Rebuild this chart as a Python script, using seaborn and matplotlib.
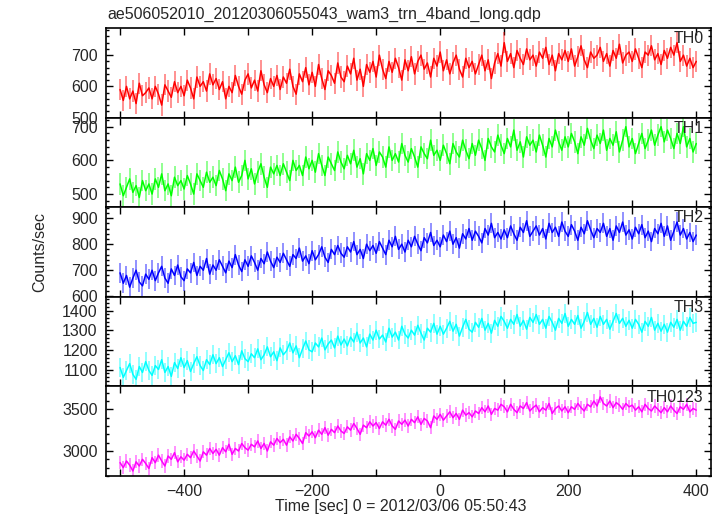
import numpy as np
import pandas as pd
import seaborn as sns
import matplotlib.pyplot as plt
from matplotlib.ticker import MultipleLocator

# time bins [sec], 0 = 2012/03/06 05:50:43
time = np.arange(-500, 401, 5)

th0 = [590, 555, 600, 560, 585, 545, 610, 570, 580, 595,
       560, 600, 575, 540, 605, 585, 565, 615, 580, 600,
       570, 620, 595, 560, 630, 600, 615, 585, 640, 605,
       625, 590, 615, 560, 600, 580, 635, 600, 575, 620,
       640, 595, 620, 585, 650, 605, 580, 625, 600, 635,
       590, 630, 610, 655, 600, 575, 640, 615, 660, 605,
       645, 600, 670, 625, 590, 650, 635, 610, 675, 630,
       615, 665, 640, 690, 620, 655, 600, 670, 645, 680,
       630, 700, 655, 625, 680, 645, 690, 660, 620, 685,
       650, 695, 640, 680, 700, 655, 675, 630, 690, 665,
       710, 650, 685, 640, 675, 700, 655, 630, 690, 660,
       680, 640, 670, 700, 650, 685, 625, 675, 705, 665,
       740, 680, 705, 660, 715, 690, 670, 720, 685, 700,
       665, 710, 690, 725, 670, 700, 650, 705, 685, 715,
       680, 720, 665, 695, 730, 685, 660, 710, 690, 700,
       725, 680, 705, 665, 715, 690, 735, 675, 700, 710,
       680, 720, 690, 660, 710, 700, 730, 685, 705, 670,
       715, 690, 725, 700, 740, 680, 700, 665, 690, 660,
       680]

th1 = [530, 495, 520, 545, 505, 525, 490, 540, 510, 530,
       500, 545, 520, 560, 510, 530, 495, 550, 525, 540,
       515, 555, 530, 500, 560, 540, 520, 565, 535, 550,
       525, 570, 545, 510, 560, 540, 580, 535, 555, 600,
       545, 575, 530, 565, 590, 550, 520, 580, 560, 585,
       555, 590, 565, 540, 600, 570, 585, 555, 610, 575,
       600, 565, 620, 585, 555, 610, 590, 570, 625, 595,
       575, 615, 590, 630, 580, 605, 560, 620, 600, 635,
       585, 625, 610, 580, 640, 600, 620, 595, 650, 615,
       595, 635, 610, 580, 640, 620, 605, 660, 615, 630,
       600, 645, 620, 590, 650, 625, 610, 660, 630, 605,
       650, 615, 660, 635, 600, 665, 640, 625, 675, 645,
       620, 665, 640, 690, 630, 655, 610, 670, 645, 660,
       625, 675, 645, 610, 665, 640, 690, 655, 630, 670,
       640, 680, 655, 620, 670, 645, 695, 660, 635, 675,
       650, 690, 630, 665, 645, 685, 625, 660, 700, 640,
       665, 620, 650, 680, 635, 660, 690, 645, 675, 700,
       655, 690, 665, 635, 680, 650, 700, 640, 665, 625,
       650]

th2 = [690, 650, 680, 635, 670, 700, 655, 640, 685, 665,
       700, 660, 690, 715, 670, 650, 705, 680, 720, 675,
       660, 705, 690, 730, 680, 715, 700, 745, 685, 720,
       700, 740, 715, 690, 735, 710, 760, 720, 695, 740,
       715, 755, 730, 700, 745, 725, 770, 735, 710, 750,
       730, 765, 740, 715, 760, 745, 785, 735, 755, 725,
       775, 740, 760, 790, 750, 730, 780, 760, 795, 765,
       750, 790, 770, 810, 760, 780, 745, 800, 775, 795,
       765, 810, 785, 760, 815, 790, 830, 780, 800, 770,
       815, 790, 830, 800, 775, 825, 805, 845, 795, 815,
       790, 835, 810, 850, 800, 825, 785, 840, 820, 860,
       815, 850, 830, 805, 860, 835, 880, 825, 845, 820,
       855, 825, 870, 840, 815, 865, 845, 890, 830, 850,
       870, 835, 860, 820, 880, 845, 865, 830, 885, 850,
       830, 875, 850, 815, 865, 840, 890, 855, 825, 860,
       845, 880, 830, 860, 815, 870, 845, 885, 835, 855,
       820, 865, 840, 875, 825, 850, 810, 860, 840, 880,
       830, 870, 815, 850, 885, 835, 860, 820, 845, 810,
       835]

th3 = [1110, 1060, 1095, 1130, 1075, 1050, 1115, 1085, 1140, 1095,
       1070, 1120, 1100, 1150, 1085, 1115, 1065, 1135, 1105, 1160,
       1110, 1145, 1090, 1130, 1165, 1120, 1095, 1150, 1125, 1175,
       1130, 1160, 1115, 1150, 1185, 1140, 1170, 1125, 1195, 1155,
       1140, 1180, 1160, 1205, 1150, 1175, 1215, 1165, 1190, 1145,
       1210, 1175, 1195, 1235, 1185, 1220, 1160, 1205, 1245, 1200,
       1190, 1235, 1215, 1260, 1200, 1230, 1250, 1210, 1270, 1225,
       1255, 1220, 1265, 1240, 1290, 1235, 1260, 1215, 1280, 1250,
       1300, 1255, 1275, 1240, 1310, 1265, 1290, 1250, 1320, 1280,
       1260, 1300, 1275, 1325, 1285, 1250, 1310, 1290, 1335, 1280,
       1320, 1280, 1310, 1345, 1295, 1330, 1270, 1315, 1355, 1305,
       1290, 1340, 1315, 1360, 1300, 1335, 1285, 1350, 1320, 1370,
       1345, 1310, 1355, 1330, 1380, 1320, 1350, 1305, 1365, 1340,
       1380, 1330, 1355, 1310, 1370, 1340, 1300, 1360, 1335, 1385,
       1320, 1355, 1330, 1375, 1310, 1345, 1390, 1330, 1360, 1315,
       1370, 1330, 1355, 1305, 1345, 1385, 1335, 1360, 1320, 1350,
       1310, 1355, 1330, 1290, 1345, 1320, 1365, 1300, 1335, 1295,
       1330, 1290, 1340, 1315, 1355, 1300, 1345, 1320, 1365, 1335,
       1340]

th0123 = [2860, 2800, 2880, 2830, 2760, 2870, 2820, 2900, 2850, 2790,
          2920, 2860, 2950, 2880, 2820, 2940, 2900, 2980, 2870, 2930,
          2890, 2960, 2920, 3000, 2940, 2880, 2990, 2950, 3030, 2970,
          3020, 2950, 3040, 2990, 3080, 2960, 3030, 3000, 3090, 3040,
          3010, 3080, 3050, 3120, 3030, 3090, 3000, 3110, 3070, 3150,
          3100, 3140, 3070, 3170, 3120, 3200, 3150, 3090, 3220, 3180,
          3230, 3160, 3250, 3200, 3280, 3190, 3260, 3220, 3300, 3240,
          3210, 3290, 3250, 3330, 3270, 3200, 3310, 3280, 3350, 3300,
          3340, 3270, 3350, 3310, 3380, 3300, 3260, 3360, 3320, 3370,
          3300, 3380, 3340, 3410, 3320, 3390, 3360, 3280, 3420, 3380,
          3440, 3370, 3420, 3470, 3400, 3450, 3380, 3490, 3430, 3460,
          3410, 3480, 3450, 3520, 3470, 3540, 3440, 3510, 3490, 3560,
          3530, 3470, 3560, 3500, 3460, 3540, 3510, 3580, 3480, 3520,
          3550, 3470, 3520, 3490, 3570, 3450, 3510, 3540, 3480, 3530,
          3460, 3530, 3500, 3570, 3520, 3480, 3560, 3530, 3600, 3540,
          3650, 3570, 3540, 3600, 3520, 3580, 3550, 3500, 3570, 3530,
          3550, 3490, 3530, 3470, 3560, 3510, 3480, 3540, 3500, 3460,
          3520, 3470, 3540, 3490, 3450, 3530, 3500, 3560, 3470, 3510,
          3490]

bands = ["TH0", "TH1", "TH2", "TH3", "TH0123"]
rates = [th0, th1, th2, th3, th0123]
errors = [34, 32, 38, 48, 80]
colors = ["#ff0000", "#00ff00", "#0000ff", "#00ffff", "#ff00ff"]
ylims = [(500, 787), (461, 727), (598, 942), (1014, 1470), (2700, 3775)]
major_steps = [100, 100, 100, 100, 500]
minor_steps = [20, 20, 20, 20, 100]

sns.set_style("ticks")
plt.rcParams["font.family"] = ["Liberation Sans", "DejaVu Sans"]

fig = plt.figure(figsize=(7.2, 5.16), dpi=100)
left, width = 106 / 720, 605 / 720
top, height = 1 - 28 / 516, 89.6 / 516

for i, band in enumerate(bands):
    ax = fig.add_axes([left, top - (i + 1) * height, width, height])
    df = pd.DataFrame({"time": time, "rate": rates[i]})
    ax.errorbar(df["time"], df["rate"], yerr=errors[i], fmt="none",
                ecolor=colors[i], alpha=0.55, lw=1.1)
    sns.lineplot(data=df, x="time", y="rate", color=colors[i], lw=1.1, ax=ax)

    ax.set_xlim(-522, 423)
    ax.set_ylim(*ylims[i])
    ax.set_xlabel("")
    ax.set_ylabel("")
    ax.xaxis.set_major_locator(MultipleLocator(200))
    ax.xaxis.set_minor_locator(MultipleLocator(100))
    ax.yaxis.set_major_locator(MultipleLocator(major_steps[i]))
    ax.yaxis.set_minor_locator(MultipleLocator(minor_steps[i]))
    ax.tick_params(which="both", direction="in", top=True, right=True,
                   color="black", width=1)
    ax.tick_params(which="major", length=5, labelsize=11.5, pad=6)
    ax.tick_params(axis="x", which="minor", length=5)
    ax.tick_params(axis="y", which="minor", length=2.5)
    if i < len(bands) - 1:
        ax.tick_params(axis="x", labelbottom=False)
    for s in ax.spines.values():
        s.set_color("black")
        s.set_linewidth(1.2)
    ax.text(0.988, 0.965, band, transform=ax.transAxes, ha="right", va="top",
            fontsize=11.5)

fig.text(107 / 720, 1 - 14 / 516, "ae506052010_20120306055043_wam3_trn_4band_long.qdp",
         ha="left", va="center", fontsize=11.5)
fig.text(40 / 720, 1 - 252 / 516, "Counts/sec", rotation=90,
         ha="center", va="center", fontsize=11.5)
fig.text(401 / 720, 1 - 507 / 516, "Time [sec] 0 = 2012/03/06 05:50:43",
         ha="center", va="center", fontsize=11.5)

plt.savefig("out.png", dpi=100)
plt.close()
